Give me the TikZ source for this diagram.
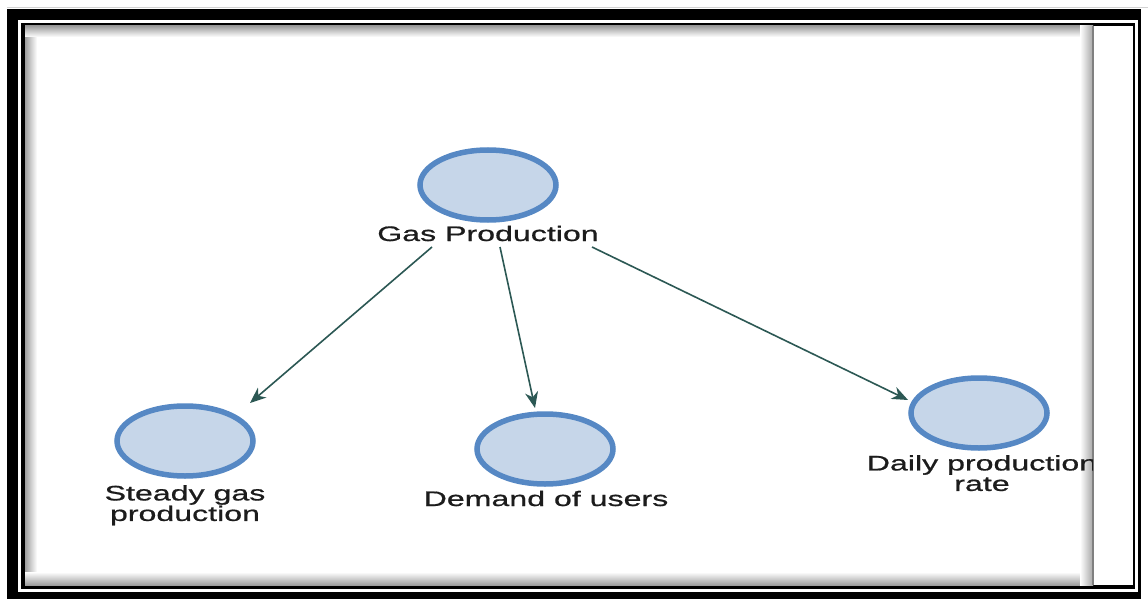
\documentclass[tikz,border=0pt]{standalone}
\usepackage{fontspec}
\setmainfont{Liberation Sans}
\newfontfamily\labfont[FakeStretch=1.53, FakeBold=0.8]{Liberation Sans}
\usetikzlibrary{shapes.geometric,arrows.meta,calc}

\definecolor{ringblue}{RGB}{86,136,196}
\definecolor{fillblue}{RGB}{198,214,233}
\definecolor{linkgreen}{RGB}{44,88,84}
\definecolor{labelgray}{RGB}{28,28,28}

\tikzset{
  concept/.style={ellipse, draw=ringblue, fill=fillblue, line width=5.5pt,
    minimum width=136pt, minimum height=70pt, inner sep=0pt},
  caption/.style={font=\labfont\fontsize{21}{20.5}\selectfont, text=labelgray,
    inner sep=0pt, align=center},
  link/.style={draw=linkgreen, line width=1.6pt,
    -{Stealth[length=16pt, width=13pt, inset=5pt]}},
}

\begin{document}
\begin{tikzpicture}[x=1pt, y=-1pt]
  \useasboundingbox (0,0) rectangle (1148,599);
  \fill[white] (0,0) rectangle (1148,599);

  % double black frame
  \draw[gray!35, line width=1pt] (7,8) -- (1148,8);
  \fill[black] (7,9) rectangle (1141,599);
  \fill[white] (18,20) rectangle (1138,592);
  \fill[black] (21,23) rectangle (1135,589);
  \fill[white] (25,26) rectangle (1133,585);

  % sunken canvas edges
  \shade[left color=black!38, right color=white] (25,26) rectangle (37,585);
  \shade[top color=black!38, bottom color=white] (25,26) rectangle (1093,37);
  \shade[top color=white, bottom color=black!38] (25,572) rectangle (1093,585);
  \shade[left color=white, right color=black!35] (1080,26) rectangle (1093,585);
  \draw[black!50, line width=1.5pt] (1093,26) -- (1093,585);

  \begin{scope}
    \clip (25,26) rectangle (1093,585);

    \node[concept] (gp) at (488,185) {};
    \node[concept] (sg) at (185,441) {};
    \node[concept] (du) at (545,449) {};
    \node[concept] (dp) at (979,413) {};

    \node[caption, anchor=base] (gpl) at (488,241) {Gas Production};
    \node[caption, anchor=north] (sgl) at (185,485) {Steady gas\\production};
    \node[caption, anchor=base] (dul) at (546,506) {Demand of users};
    \node[caption, anchor=north] (dpl) at (982,455) {Daily production\\rate};

    \draw[link] ($(gp)+(-56,62)$) -- ($(sg)+(65,-38)$);
    \draw[link] ($(gp)+(12,62)$) -- ($(du)+(-10,-41)$);
    \draw[link] ($(gp)+(104,62)$) -- ($(dp)+(-71,-13)$);
  \end{scope}
\end{tikzpicture}
\end{document}
